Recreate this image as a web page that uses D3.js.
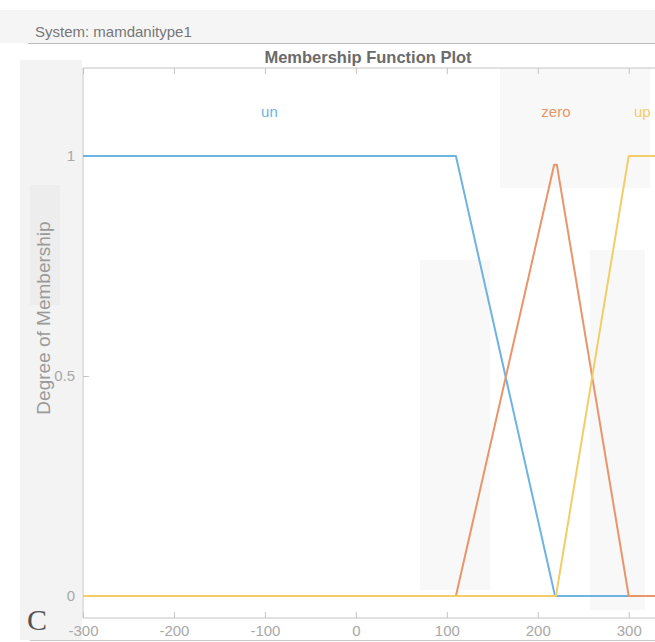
<!DOCTYPE html>
<html>
<head>
<meta charset="utf-8">
<script src="https://cdn.jsdelivr.net/npm/d3@7"></script>
<style>
  body { margin: 0; background: #fff; }
  svg { display: block; font-family: "Liberation Sans", Arial, sans-serif; }
</style>
</head>
<body>
<svg id="chart" width="655" height="642"></svg>
<script>
  // membership functions
  const mfNames = ['un', 'zero', 'up'];
  const mfColors = ['#6db3e3', '#e99469', '#f2cd68'];
  const unX = [-300, 110, 219, 330];
  const unY = [1, 1, 0, 0];
  const zeroX = [-300, 110, 218, 221, 300, 330];
  const zeroY = [0, 0, 0.98, 0.98, 0, 0];
  const upX = [-300, 220, 300, 330];
  const upY = [0, 0, 1, 1];
  const labelX = [-95, 220, 315];
  const xTicks = [-300, -200, -100, 0, 100, 200, 300];
  const yTicks = [0, 0.5, 1];

  const svg = d3.select('#chart');

  /*
    faint watermark-ish background blocks
  */
  const bg = svg.append('g');
  bg.append('rect').attr('x', 0).attr('y', 10).attr('width', 655).attr('height', 33).attr('fill', '#f5f5f5');
  bg.append('rect').attr('x', 20).attr('y', 60).attr('width', 62).attr('height', 580).attr('fill', '#f3f3f3');
  bg.append('rect').attr('x', 30).attr('y', 185).attr('width', 30).attr('height', 120).attr('fill', '#ededed');

  const margin = { left: 83, top: 68, right: 656, bottom: 618 };
  const x = d3.scaleLinear().domain([-300, 330]).range([margin.left, margin.right]);
  const y = d3.scaleLinear().domain([-0.05, 1.2]).range([margin.bottom, margin.top]);

  // plot area
  svg.append('rect')
    .attr('x', margin.left).attr('y', margin.top)
    .attr('width', margin.right - margin.left).attr('height', margin.bottom - margin.top)
    .attr('fill', '#fff');

  const inner = svg.append('g').attr('fill', '#f8f8f8');
  inner.append('rect').attr('x', 500).attr('y', 68).attr('width', 150).attr('height', 120);
  inner.append('rect').attr('x', 420).attr('y', 260).attr('width', 70).attr('height', 330);
  inner.append('rect').attr('x', 590).attr('y', 250).attr('width', 55).attr('height', 360);

  // header
  svg.append('text')
    .attr('x', 35).attr('y', 37)
    .attr('font-size', 15).attr('fill', '#777')
    .text('System: mamdanitype1');
  svg.append('line')
    .attr('x1', 28).attr('x2', 655).attr('y1', 43.5).attr('y2', 43.5)
    .attr('stroke', '#bdbdbd');

  svg.append('text')
    .attr('x', 368).attr('y', 63)
    .attr('text-anchor', 'middle')
    .attr('font-size', 16.5).attr('font-weight', 'bold').attr('fill', '#6b6b6b')
    .text('Membership Function Plot');

  // axes
  const fmt = function (d) { return String(d); };
  const xAxis = d3.axisBottom(x).tickValues(xTicks).tickSize(-6).tickPadding(7).tickFormat(fmt);
  const gx = svg.append('g').attr('transform', 'translate(0,' + margin.bottom + ')').call(xAxis);
  const xTop = d3.axisTop(x).tickValues(xTicks).tickSize(-6).tickFormat('');
  const gxt = svg.append('g').attr('transform', 'translate(0,' + margin.top + ')').call(xTop);
  const yAxis = d3.axisLeft(y).tickValues(yTicks).tickSize(-6).tickPadding(8).tickFormat(fmt);
  const gy = svg.append('g').attr('transform', 'translate(' + margin.left + ',0)').call(yAxis);

  [gx, gxt, gy].forEach(function (g) {
    g.select('.domain').attr('stroke', '#c4c4c4');
    g.selectAll('.tick line').attr('stroke', '#c4c4c4');
    g.selectAll('.tick text').attr('fill', '#a8a8a8').attr('font-size', 15)
      .attr('font-family', '"Liberation Sans", Arial, sans-serif');
  });
  gx.select('.domain').attr('d', 'M' + margin.left + ',0H' + margin.right);
  gxt.select('.domain').attr('d', 'M' + margin.left + ',0H' + margin.right);
  gy.select('.domain').attr('d', 'M0,' + margin.top + 'V' + margin.bottom);

  svg.append('text')
    .attr('transform', 'translate(50,318) rotate(-90)')
    .attr('text-anchor', 'middle')
    .attr('font-size', 19).attr('fill', '#9a9a9a')
    .text('Degree of Membership');

  // membership lines
  const series = [
    { xs: unX, ys: unY },
    { xs: zeroX, ys: zeroY },
    { xs: upX, ys: upY }
  ];
  const line = d3.line().x(function (d) { return x(d[0]); }).y(function (d) { return y(d[1]); });

  series.forEach(function (s, i) {
    const pts = s.xs.map(function (v, j) { return [v, s.ys[j]]; });
    svg.append('path')
      .datum(pts)
      .attr('d', line)
      .attr('fill', 'none')
      .attr('stroke', mfColors[i])
      .attr('stroke-width', 2)
      .attr('stroke-linejoin', 'round');
    svg.append('text')
      .attr('x', x(labelX[i])).attr('y', y(1.1) + 5)
      .attr('text-anchor', 'middle')
      .attr('font-size', 15).attr('fill', mfColors[i])
      .text(mfNames[i]);
  });

  // page bits around the screenshot
  svg.append('text')
    .attr('x', 27).attr('y', 630)
    .attr('font-family', '"Liberation Serif", "Times New Roman", serif')
    .attr('font-size', 30).attr('fill', '#555')
    .text('C');
  svg.append('line')
    .attr('x1', 30).attr('x2', 655).attr('y1', 640.5).attr('y2', 640.5)
    .attr('stroke', '#c8c8c8');
</script>
</body>
</html>
